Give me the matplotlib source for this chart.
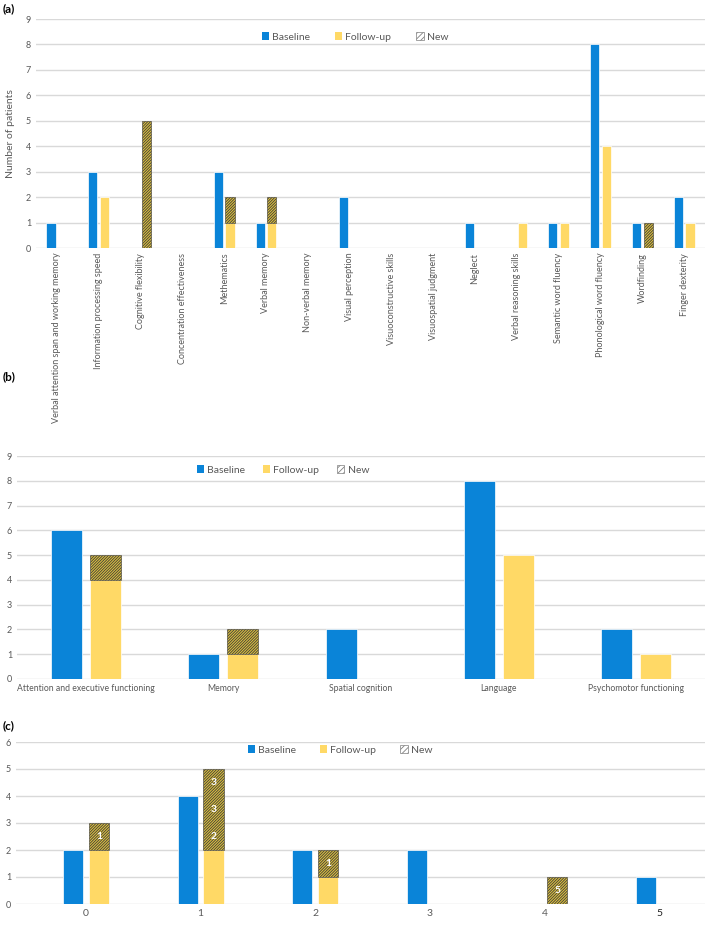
#!/usr/bin/env python3
"""Three-panel bar chart: cognitive deficits at baseline and follow-up."""

import matplotlib
matplotlib.use('Agg')
import matplotlib.pyplot as plt
from matplotlib.patches import Patch
import numpy as np

plt.rcParams['font.family'] = ['Lato', 'DejaVu Sans']
plt.rcParams['hatch.linewidth'] = 0.6

# ---- data ----------------------------------------------------------------
a_categories = [
    'Verbal attention span and working memory', 'Information processing speed',
    'Cognitive flexibility', 'Concentration effectiveness', 'Methematics',
    'Verbal memory', 'Non-verbal memory', 'Visual perception',
    'Visuoconstructive skills', 'Visuospatial judgment', 'Neglect',
    'Verbal reasoning skills', 'Semantic word fluency',
    'Phonological word fluency', 'Wordfinding', 'Finger dexterity',
]
a_baseline = [1, 3, 0, 0, 3, 1, 0, 2, 0, 0, 1, 0, 1, 8, 1, 2]
a_followup = [0, 2, 0, 0, 1, 1, 0, 0, 0, 0, 0, 1, 1, 4, 0, 1]
a_new = [0, 0, 5, 0, 1, 1, 0, 0, 0, 0, 0, 0, 0, 0, 1, 0]

b_categories = ['Attention and executive functioning', 'Memory',
                'Spatial cognition', 'Language', 'Psychomotor functioning']
b_baseline = [6, 1, 2, 8, 2]
b_followup = [4, 1, 0, 5, 1]
b_new = [1, 1, 0, 0, 0]

c_categories = ['0', '1', '2', '3', '4', '5']
c_baseline = [2, 4, 2, 2, 0, 1]
c_followup = [2, 2, 1, 0, 0, 0]
c_new = [1, 3, 1, 0, 1, 0]
c_new_labels = [['1'], ['2', '3', '3'], ['1'], [], ['5'], []]

# ---- style ---------------------------------------------------------------
BLUE = '#0A84D8'
YELLOW = '#FFD966'
HATCH_FILL = '#DDC03E'
GRID = '#D9D9D9'
TXT = '#595959'


def draw_panel(ax, cats, base, follow, new, width, offset, ymax, tick_fs):
    x = np.arange(len(cats))
    ax.bar(x - offset, base, width, color=BLUE, edgecolor='white',
           linewidth=0.5, zorder=3)
    ax.bar(x + offset, follow, width, color=YELLOW, edgecolor='white',
           linewidth=0.5, zorder=3)
    new = np.array(new)
    ax.bar(x[new > 0] + offset, new[new > 0], width,
           bottom=np.array(follow)[new > 0], color=HATCH_FILL,
           edgecolor='#3c3c3c', hatch='////////////', linewidth=0.4,
           zorder=3)
    ax.set_ylim(0, ymax)
    ax.set_yticks(range(ymax + 1))
    ax.yaxis.grid(True, color=GRID, linewidth=1.0, zorder=0)
    ax.set_axisbelow(True)
    for s in ax.spines.values():
        s.set_visible(False)
    ax.tick_params(length=0, colors=TXT, labelsize=tick_fs)
    ax.set_xticks(x)
    return x


def add_legend(ax, anchor, spacing):
    handles = [
        Patch(facecolor=BLUE, edgecolor='none'),
        Patch(facecolor=YELLOW, edgecolor='none'),
        Patch(facecolor='white', edgecolor='#7f7f7f', hatch='//////',
              linewidth=0.5),
    ]
    leg = ax.legend(handles, ['Baseline', 'Follow-up', 'New'], ncol=3,
                    loc='center', bbox_to_anchor=anchor,
                    bbox_transform=ax.figure.transFigure, frameon=False,
                    handlelength=0.7, handleheight=0.7, handletextpad=0.3,
                    columnspacing=spacing, fontsize=7.5)
    for t in leg.get_texts():
        t.set_color(TXT)


fig = plt.figure(figsize=(7.09, 9.26), dpi=100)
W, H = 709.0, 926.0


def rect(x0, y0, x1, y1):
    return [x0 / W, 1 - y1 / H, (x1 - x0) / W, (y1 - y0) / H]


# panel (a)
ax_a = fig.add_axes(rect(36, 19, 705, 248))
draw_panel(ax_a, a_categories, a_baseline, a_followup, a_new,
           0.22, 0.14, 9, 6.5)
ax_a.set_xlim(-0.5, len(a_categories) - 0.5)
ax_a.set_xticklabels(a_categories, rotation=90, fontsize=6.5, color=TXT)
ax_a.set_ylabel('Number of patients', fontsize=7.5, color=TXT, labelpad=8)
add_legend(ax_a, (355 / W, 1 - 37 / H), 2.4)
fig.text(3 / W, 1 - 3 / H, '(a)', fontsize=8.5, fontweight='bold',
         va='top', ha='left')

# panel (b)
ax_b = fig.add_axes(rect(17, 456, 705, 679))
draw_panel(ax_b, b_categories, b_baseline, b_followup, b_new,
           0.225, 0.142, 9, 6.5)
ax_b.set_xlim(-0.5, len(b_categories) - 0.5)
ax_b.set_xticklabels(b_categories, fontsize=6.2, color=TXT)
add_legend(ax_b, (283 / W, 1 - 470 / H), 1.7)
fig.text(3 / W, 1 - 371 / H, '(b)', fontsize=8.5, fontweight='bold',
         va='top', ha='left')

# panel (c)
ax_c = fig.add_axes(rect(16, 742, 705, 904))
xc = draw_panel(ax_c, c_categories, c_baseline, c_followup, c_new,
                0.175, 0.113, 6, 6.5)
ax_c.set_xlim(-0.61, 5.40)
ax_c.set_xticklabels(c_categories, fontsize=7.5, color=TXT)
ax_c.get_xticklabels()[-1].set_color('#222222')
for i, labels in enumerate(c_new_labels):
    for j, lab in enumerate(labels):
        ax_c.text(xc[i] + 0.113, c_followup[i] + j + 0.5, lab, color='white',
                  fontsize=7.5, fontweight='bold', ha='center', va='center',
                  zorder=5)
add_legend(ax_c, (340 / W, 1 - 750 / H), 2.3)
fig.text(3 / W, 1 - 720 / H, '(c)', fontsize=8.5, fontweight='bold',
         va='top', ha='left')

fig.savefig('out.png', dpi=100, facecolor='white')
